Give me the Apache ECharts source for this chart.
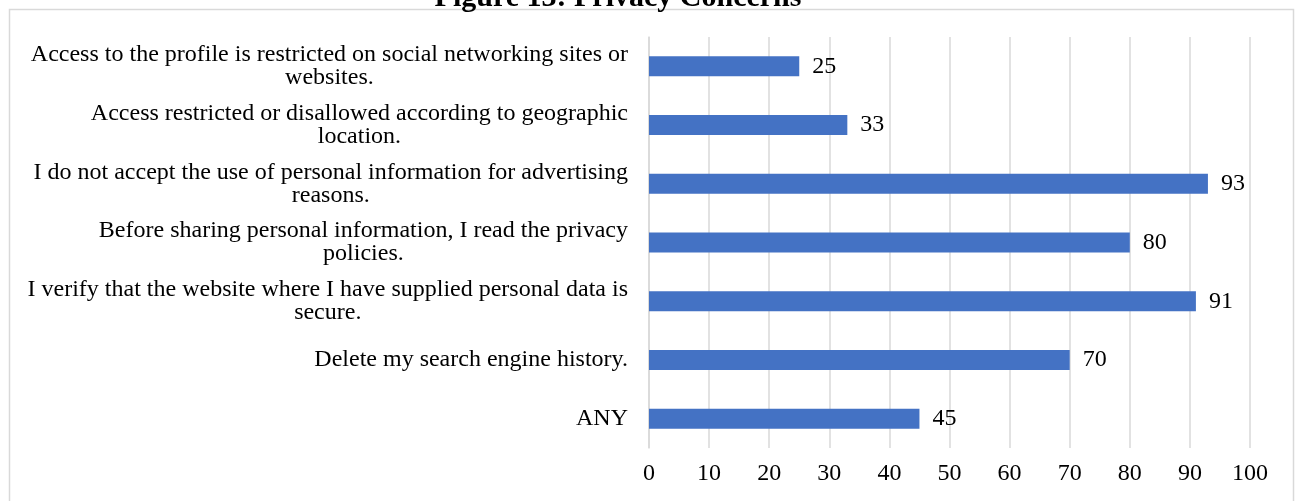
<!DOCTYPE html>
<html>
<head>
<meta charset="utf-8">
<script src="https://cdn.jsdelivr.net/npm/echarts@6/dist/echarts.min.js"></script>
<style>
html,body{margin:0;padding:0;background:#fff;}
#chart{width:1300px;height:501px;}
</style>
</head>
<body>
<div id="chart"></div>
<script>
const titleText = 'Figure 13: Privacy Concerns';
const categories = [
  'Access to the profile is restricted on social networking sites or\nwebsites.',
  'Access restricted or disallowed according to geographic\nlocation.',
  'I do not accept the use of personal information for advertising\nreasons.',
  'Before sharing personal information, I read the privacy\npolicies.',
  'I verify that the website where I have supplied personal data is\nsecure.',
  'Delete my search engine history.',
  'ANY'
];
const values = [25, 33, 93, 80, 91, 70, 45];
const xTicks = [0, 100, 10];

const FONT = '"Liberation Serif", "Times New Roman", serif';
const chart = echarts.init(document.getElementById('chart'), null, {renderer: 'canvas'});
chart.setOption({
  backgroundColor: '#fff',
  animation: false,
  title: {
    text: titleText,
    left: 613,
    textAlign: 'center',
    top: -22,
    textStyle: {fontFamily: FONT, fontWeight: 'bold', fontSize: 30, color: '#000'}
  },
  graphic: [{
    type: 'rect',
    shape: {x: 9.5, y: 9.5, width: 1284, height: 520},
    style: {fill: 'none', stroke: '#d9d9d9', lineWidth: 1.5},
    silent: true
  }],
  grid: {left: 649, right: 50, top: 37, bottom: 53, containLabel: false},
  xAxis: {
    type: 'value',
    min: xTicks[0], max: xTicks[1], interval: xTicks[2],
    axisLine: {show: false},
    axisTick: {show: false},
    splitLine: {show: true, lineStyle: {color: '#d9d9d9', width: 1.5}},
    axisLabel: {margin: 14, fontFamily: FONT, fontSize: 24, color: '#000'}
  },
  yAxis: {
    type: 'category',
    inverse: true,
    data: categories,
    axisLine: {show: true, lineStyle: {color: '#d9d9d9', width: 1.5}},
    axisTick: {show: false},
    axisLabel: {
      margin: 21,
      formatter: function (v) {
        return v.split('\n').map(function (l) { return '{c|' + l + '}'; }).join('\n');
      },
      rich: {
        c: {align: 'center', fontFamily: FONT, fontSize: 24, color: '#000', lineHeight: 23}
      }
    }
  },
  series: [{
    type: 'bar',
    data: values,
    barWidth: 20,
    itemStyle: {color: '#4472C4'},
    label: {
      show: true,
      position: 'right',
      distance: 13,
      fontFamily: FONT,
      fontSize: 24,
      color: '#000'
    }
  }]
});
</script>
</body>
</html>
